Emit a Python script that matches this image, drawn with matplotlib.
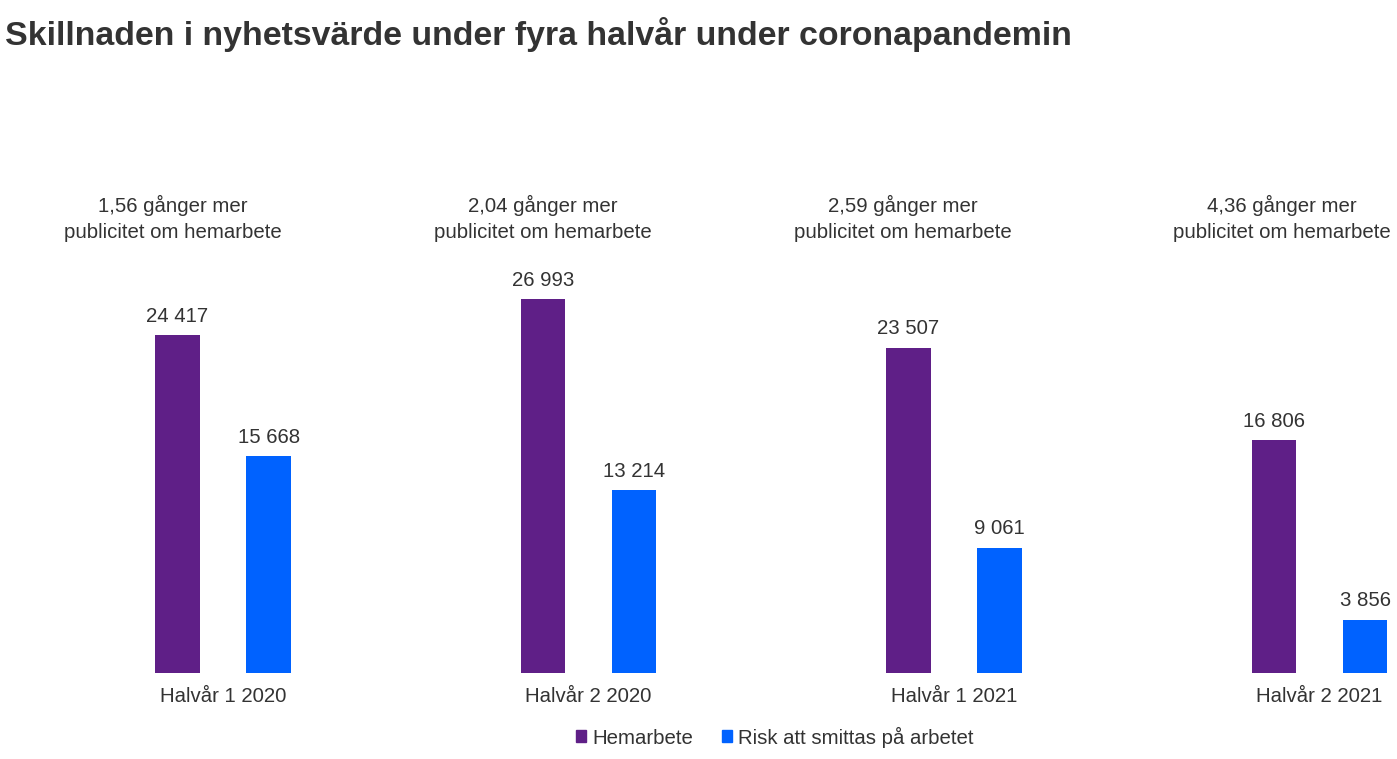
import matplotlib
matplotlib.use("Agg")
import matplotlib.pyplot as plt
import numpy as np

categories = ["Halvår 1 2020", "Halvår 2 2020", "Halvår 1 2021", "Halvår 2 2021"]
hemarbete = [24417, 26993, 23507, 16806]
risk = [15668, 13214, 9061, 3856]
ratios = ["1,56", "2,04", "2,59", "4,36"]
series_names = ["Hemarbete", "Risk att smittas på arbetet"]

plt.rcParams['font.family'] = ['Liberation Sans', 'DejaVu Sans']
TXT = "#333333"
PURPLE = "#5f1f87"
BLUE = "#0062ff"
FS = 14.7

W, H = 1397, 759
fig = plt.figure(figsize=(W/100, H/100), dpi=100)
ax = fig.add_axes([0, 86/H, 1, (673-100)/H])

x = np.arange(len(categories))
off = 0.125
bw = 0.122
ax.bar(x - off, hemarbete, bw, color=PURPLE)
ax.bar(x + off, risk, bw, color=BLUE)

def fmt(v):
    return f"{v:,}".replace(",", " ")

for i in range(len(categories)):
    ax.annotate(fmt(hemarbete[i]), (x[i]-off, hemarbete[i]), xytext=(0, 13.7), textcoords="offset points",
                ha="center", va="center", fontsize=FS, color=TXT)
    ax.annotate(fmt(risk[i]), (x[i]+off, risk[i]), xytext=(0, 13.7), textcoords="offset points",
                ha="center", va="center", fontsize=FS, color=TXT)

ax.set_xlim(-223/365.5, (W-223)/365.5)
ax.set_ylim(0, 573/0.01384)
ax.axis("off")

# category labels
for i, c in enumerate(categories):
    xp = (223 + 365.5*i) / W
    fig.text(xp, 1 - 697/H, c, ha="center", va="center", fontsize=FS, color=TXT)

# ratio annotations
ann_x = [173, 542.5, 903, 1282]
for i, r in enumerate(ratios):
    fig.text(ann_x[i]/W, 1 - 218.5/H, f"{r} gånger mer\npublicitet om hemarbete", ha="center", va="center",
             fontsize=FS, color=TXT, linespacing=1.45)

fig.text(5/W, 1 - 35/H, "Skillnaden i nyhetsvärde under fyra halvår under coronapandemin",
         ha="left", va="center", fontsize=24.4, fontweight="bold", color=TXT)

from matplotlib.patches import Patch
handles = [Patch(color=PURPLE), Patch(color=BLUE)]
fig.legend(handles, series_names, loc="center", bbox_to_anchor=(775/W, 1 - 737/H), ncol=2, frameon=False,
           fontsize=FS, handlelength=0.5, handleheight=0.5, handletextpad=0.3, columnspacing=1.4,
           labelcolor=TXT)

fig.savefig("out.png", dpi=100)
